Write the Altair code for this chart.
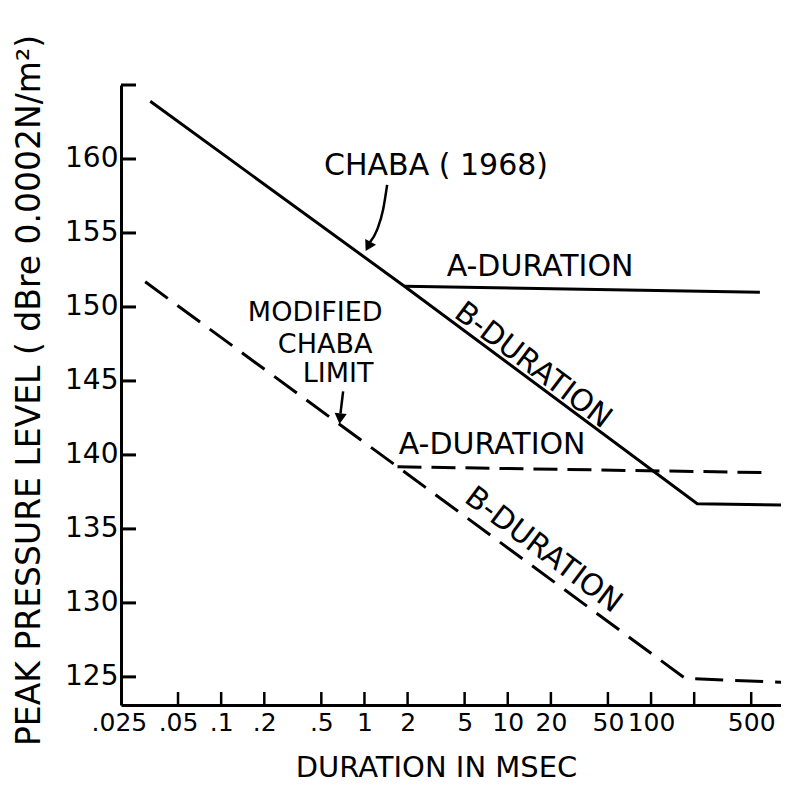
import altair as alt
import pandas as pd

# ---- data ----
chaba_x = [0.032, 1.9, 210, 1000]
chaba_y = [163.9, 151.4, 136.7, 136.6]
chaba_a_x = [1.9, 575]
chaba_a_y = [151.4, 151.0]
mod_x = [0.0295, 1.7, 173, 1000]
mod_y = [151.7, 139.2, 124.9, 124.6]
mod_a_x = [1.7, 680]
mod_a_y = [139.2, 138.8]

x_tick_vals = [0.025, 0.05, 0.1, 0.2, 0.5, 1, 2, 5, 10, 20, 50, 100, 500]
x_tick_labels = [".025", ".05", ".1", ".2", ".5", "1", "2", "5", "10", "20", "50", "100", "500"]
x_tick_marks = [0.05, 0.1, 0.2, 0.5, 1, 2, 5, 10, 20, 50, 100, 200, 500]
y_tick_vals = [125, 130, 135, 140, 145, 150, 155, 160]
y_tick_marks = [125, 130, 135, 140, 145, 150, 155, 160, 165]

label_text = ["CHABA ( 1968)", "A-DURATION", "B-DURATION", "A-DURATION", "B-DURATION"]
label_x = [3.16, 16.8, 15.0, 7.78, 17.7]
label_y = [159.53, 152.68, 146.04, 140.67, 133.56]
label_angle = [0, 0, 37, 0, 37]

stack_text = ["MODIFIED", "CHABA", "LIMIT"]
stack_x = [0.453, 0.532, 0.655]
stack_y = [149.6, 147.45, 145.44]

arrow1_x = [1.44, 1.35, 1.227, 1.08]
arrow1_y = [158.25, 156.58, 155.23, 154.3]
arrow1_tip = (1.061, 154.09)
arrow2_x = [0.71, 0.68]
arrow2_y = [144.3, 142.8]
arrow2_tip = (0.676, 142.45)

FONT = "DejaVu Sans"

expr = "datum.label"
for v, l in reversed(list(zip(x_tick_vals, x_tick_labels))):
    expr = f"datum.value == {v} ? '{l}' : ({expr})"

xaxis = alt.Axis(values=x_tick_vals, labelExpr=expr, ticks=False, tickSize=0, grid=False,
                 domainColor="black", domainWidth=3, labelFontSize=25, labelColor="black",
                 labelPadding=5, labelOverlap=False, labelFlush=False, labelBound=False,
                 labelOffset={"condition": {"test": "datum.value < 0.03", "value": -16}, "value": 0},
                 title="DURATION IN MSEC", titleFontSize=29, titleFontWeight="normal",
                 titleColor="black", titleX=315, titleY=62, titleBaseline="middle")
yaxis = alt.Axis(values=y_tick_vals, ticks=False, tickSize=0, grid=False,
                 domainColor="black", domainWidth=3, labelFontSize=28, labelColor="black",
                 labelPadding=3, labelOverlap=False, labelFlush=False,
                 title="PEAK PRESSURE LEVEL ( dBre 0.0002N/m²)", titleFontSize=33,
                 titleFontWeight="normal", titleColor="black", titleX=-92, titleY=305,
                 titleAngle=270, titleBaseline="middle", titleAlign="center")

X = alt.X("x:Q", scale=alt.Scale(type="log", domain=[0.02, 807], nice=False), axis=xaxis)
Y = alt.Y("y:Q", scale=alt.Scale(domain=[123.1, 165], nice=False, zero=False), axis=yaxis)


def line(xs, ys, dash=None, width=3, interp="linear"):
    df = pd.DataFrame({"x": xs, "y": ys})
    kw = dict(color="black", strokeWidth=width, clip=True, interpolate=interp)
    if dash:
        kw["strokeDash"] = dash
    return alt.Chart(df).mark_line(**kw).encode(x=X, y=Y)


layers = [
    line(chaba_x, chaba_y),
    line(chaba_a_x, chaba_a_y),
    line(mod_x, mod_y, dash=[28, 12]),
    line(mod_a_x, mod_a_y, dash=[24, 10]),
    line(arrow1_x, arrow1_y, width=2.5, interp="monotone"),
    line(arrow2_x, arrow2_y, width=2.5),
]

tips = pd.DataFrame({"x": [arrow1_tip[0], arrow2_tip[0]], "y": [arrow1_tip[1], arrow2_tip[1]],
                     "a": [28, 6]})
layers.append(alt.Chart(tips).mark_point(shape="triangle-down", filled=True, color="black",
                                         size=150, opacity=1).encode(
    x=X, y=Y, angle=alt.Angle("a:Q", scale=None)))

labels = pd.DataFrame({"x": label_x, "y": label_y, "text": label_text, "a": label_angle})
layers.append(alt.Chart(labels).mark_text(font=FONT, fontSize=30, color="black", align="center",
                                          baseline="middle").encode(
    x=X, y=Y, text="text:N", angle=alt.Angle("a:Q", scale=None)))

stack = pd.DataFrame({"x": stack_x, "y": stack_y, "text": stack_text})
layers.append(alt.Chart(stack).mark_text(font=FONT, fontSize=27, color="black", align="center",
                                         baseline="middle").encode(
    x=X, y=Y, text="text:N"))

xt = pd.DataFrame({"x": x_tick_marks})
layers.append(alt.Chart(xt).mark_rule(color="black", strokeWidth=2.5).encode(
    x=X, y=alt.value(620), y2=alt.value(607)))
yt = pd.DataFrame({"y": y_tick_marks})
layers.append(alt.Chart(yt).mark_rule(color="black", strokeWidth=3).encode(
    y=Y, x=alt.value(0), x2=alt.value(15)))

chart = alt.layer(*layers).properties(
    width=660, height=620,
    autosize=alt.AutoSizeParams(type="none"),
    padding={"left": 113, "top": 77, "right": 0, "bottom": 86},
).configure(font=FONT).configure_view(stroke=None)

chart.save("out.html", embed_options={"renderer": "svg", "actions": False})
